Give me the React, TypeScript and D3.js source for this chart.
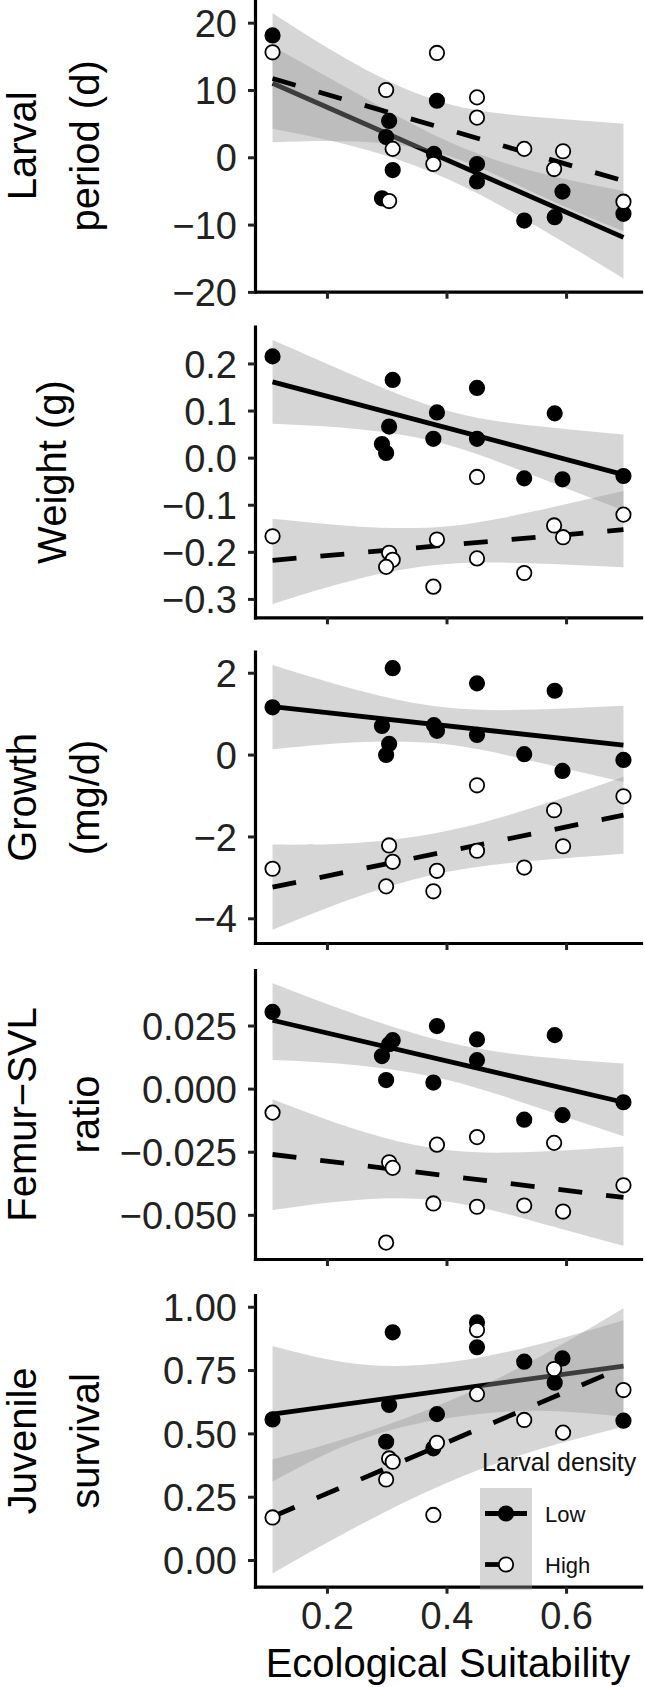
import * as d3 from 'd3';
import { useEffect, useRef } from 'react';

// x positions where the confidence bands were read, and the two ends of each fitted line
const bandX = [0.109, 0.25, 0.4, 0.55, 0.696];
const fitX = [0.109, 0.696];
const xTicks = [0.2, 0.4, 0.6];

// Larval period (d)
const larvalLow = [[0.109, 18.1], [0.304, 5.4], [0.299, 3.0], [0.31, -1.9], [0.292, -6.1], [0.384, 8.4], [0.379, 0.5], [0.451, -1.0], [0.451, -3.6], [0.53, -9.4], [0.581, -8.9], [0.594, -5.1], [0.696, -8.4]];
const larvalHigh = [[0.109, 15.6], [0.299, 10.0], [0.31, 1.25], [0.304, -6.5], [0.384, 15.5], [0.378, -1.0], [0.451, 8.9], [0.451, 5.9], [0.53, 1.25], [0.58, -1.75], [0.595, 0.9], [0.696, -6.6]];
const larvalLowFit = [11.0, -11.9];
const larvalHighFit = [11.7, -3.5];
const larvalLowBand = [[4.25, 16.5], [1.5, 9.5], [-3.15, 2.45], [-10.2, -2.2], [-18, -5]];
const larvalHighBand = [[2.25, 21.4], [2.35, 13.75], [0.3, 8.0], [-5.4, 6.0], [-11, 5.0]];
const larvalTicks = [-20, -10, 0, 10, 20];

// Weight (g)
const weightLow = [[0.109, 0.215], [0.31, 0.165], [0.451, 0.148], [0.384, 0.096], [0.581, 0.094], [0.304, 0.066], [0.292, 0.029], [0.299, 0.01], [0.378, 0.04], [0.451, 0.04], [0.53, -0.044], [0.594, -0.046], [0.696, -0.039]];
const weightHigh = [[0.451, -0.041], [0.109, -0.167], [0.304, -0.202], [0.31, -0.217], [0.299, -0.232], [0.384, -0.174], [0.378, -0.274], [0.451, -0.214], [0.53, -0.245], [0.58, -0.144], [0.595, -0.169], [0.696, -0.121]];
const weightLowFit = [0.161, -0.036];
const weightHighFit = [-0.218, -0.153];
const weightLowBand = [[0.072, 0.25], [0.061, 0.172], [0.028, 0.1], [-0.04, 0.067], [-0.112, 0.049]];
const weightHighBand = [[-0.311, -0.13], [-0.258, -0.146], [-0.226, -0.146], [-0.225, -0.113], [-0.233, -0.071]];
const weightTicks = [-0.3, -0.2, -0.1, 0, 0.1, 0.2];

// Growth (mg/d)
const growthLow = [[0.31, 2.11], [0.451, 1.74], [0.581, 1.56], [0.109, 1.155], [0.292, 0.7], [0.379, 0.72], [0.384, 0.58], [0.451, 0.48], [0.304, 0.26], [0.299, -0.01], [0.53, 0.01], [0.594, -0.4], [0.696, -0.13]];
const growthHigh = [[0.451, -0.75], [0.696, -1.02], [0.58, -1.36], [0.595, -2.24], [0.304, -2.22], [0.31, -2.62], [0.299, -3.22], [0.109, -2.79], [0.384, -2.84], [0.378, -3.34], [0.451, -2.35], [0.53, -2.76]];
const growthLowFit = [1.17, 0.23];
const growthHighFit = [-3.24, -1.48];
const growthLowBand = [[0.13, 2.19], [0.3, 1.58], [0.25, 1.15], [-0.18, 1.1], [-0.67, 1.19]];
const growthHighBand = [[-4.28, -2.2], [-3.48, -2.16], [-2.87, -1.87], [-2.59, -1.27], [-2.42, -0.54]];
const growthTicks = [-4, -2, 0, 2];

// Femur-SVL ratio
const femurLow = [[0.109, 0.0304], [0.384, 0.0248], [0.451, 0.0195], [0.581, 0.0212], [0.31, 0.0192], [0.304, 0.0176], [0.292, 0.0129], [0.451, 0.0113], [0.299, 0.0034], [0.378, 0.0024], [0.53, -0.0123], [0.594, -0.0105], [0.696, -0.0054]];
const femurHigh = [[0.109, -0.0095], [0.384, -0.0222], [0.451, -0.0192], [0.58, -0.0215], [0.304, -0.0292], [0.31, -0.0314], [0.378, -0.0455], [0.451, -0.0468], [0.53, -0.0463], [0.595, -0.0487], [0.696, -0.0383], [0.299, -0.061]];
const femurLowFit = [0.0271, -0.0054];
const femurHighFit = [-0.0261, -0.0431];
const femurLowBand = [[0.0113, 0.0418], [0.0093, 0.0293], [0.0035, 0.0185], [-0.0073, 0.0127], [-0.0189, 0.01]];
const femurHighBand = [[-0.0481, -0.0042], [-0.0441, -0.0163], [-0.0447, -0.0243], [-0.0528, -0.025], [-0.0623, -0.0229]];
const femurTicks = [-0.05, -0.025, 0, 0.025];

// Juvenile survival
const survLow = [[0.31, 0.899], [0.451, 0.938], [0.451, 0.84], [0.53, 0.783], [0.594, 0.796], [0.581, 0.7], [0.304, 0.612], [0.384, 0.576], [0.109, 0.555], [0.696, 0.55], [0.299, 0.467], [0.378, 0.441]];
const survHigh = [[0.451, 0.908], [0.58, 0.754], [0.451, 0.655], [0.696, 0.671], [0.53, 0.553], [0.595, 0.503], [0.384, 0.463], [0.304, 0.401], [0.31, 0.388], [0.299, 0.318], [0.109, 0.168], [0.378, 0.178]];
const survLowFit = [0.576, 0.766];
const survHighFit = [0.171, 0.761];
const survLowBand = [[0.31, 0.845], [0.47, 0.774], [0.56, 0.78], [0.589, 0.849], [0.566, 0.947]];
const survHighBand = [[-0.053, 0.397], [0.132, 0.494], [0.304, 0.624], [0.433, 0.795], [0.526, 0.994]];
const survTicks = [0, 0.25, 0.5, 0.75, 1];

const legendLabels = ['Low', 'High'];

const FONT = "'Liberation Sans', Arial, Helvetica, sans-serif";
const W = 645;
const H = 1687;
const left = 255;
const right = 641;

const panels = [
  { title: ['Larval', 'period (d)'], low: larvalLow, high: larvalHigh, lowFit: larvalLowFit, highFit: larvalHighFit, lowBand: larvalLowBand, highBand: larvalHighBand, ticks: larvalTicks, fmt: 'd', top: 0, bottom: 291.7 },
  { title: ['Weight (g)'], low: weightLow, high: weightHigh, lowFit: weightLowFit, highFit: weightHighFit, lowBand: weightLowBand, highBand: weightHighBand, ticks: weightTicks, fmt: '.1f', top: 326.7, bottom: 617.3 },
  { title: ['Growth', '(mg/d)'], low: growthLow, high: growthHigh, lowFit: growthLowFit, highFit: growthHighFit, lowBand: growthLowBand, highBand: growthHighBand, ticks: growthTicks, fmt: 'd', top: 651.7, bottom: 943 },
  { title: ['Femur\u2212SVL', 'ratio'], low: femurLow, high: femurHigh, lowFit: femurLowFit, highFit: femurHighFit, lowBand: femurLowBand, highBand: femurHighBand, ticks: femurTicks, fmt: '.3f', top: 970, bottom: 1259 },
  { title: ['Juvenile', 'survival'], low: survLow, high: survHigh, lowFit: survLowFit, highFit: survHighFit, lowBand: survLowBand, highBand: survHighBand, ticks: survTicks, fmt: '.2f', top: 1295, bottom: 1586.7 },
];

// ggplot-like 5% expansion of a range
function expand(ext: [number, number]): [number, number] {
  const pad = (ext[1] - ext[0]) * 0.05;
  return [ext[0] - pad, ext[1] + pad];
}

const App = () => {
  const ref = useRef<SVGSVGElement | null>(null);

  useEffect(() => {
    const svg = d3.select(ref.current!);
    svg.selectAll('*').remove();

    const allX = panels.flatMap(p => [...p.low, ...p.high].map(d => d[0]));
    const x = d3.scaleLinear()
      .domain(expand(d3.extent(allX) as [number, number]))
      .range([left, right]);

    panels.forEach((p, pi) => {
      const vals = [
        ...p.low.map(d => d[1]), ...p.high.map(d => d[1]),
        ...p.lowBand.flat(), ...p.highBand.flat(),
      ];
      const y = d3.scaleLinear()
        .domain(expand(d3.extent(vals) as [number, number]))
        .range([p.bottom, p.top]);

      const g = svg.append('g');

      const area = d3.area<number[]>()
        .x((d, i) => x(bandX[i]))
        .y0(d => y(d[0]))
        .y1(d => y(d[1]))
        .curve(d3.curveNatural);

      const line = d3.line<number>()
        .x((d, i) => x(fitX[i]))
        .y(d => y(d));

      // low group: band then line, high group drawn on top
      const groups = [
        { band: p.lowBand, fit: p.lowFit, dash: null },
        { band: p.highBand, fit: p.highFit, dash: '24 24' },
      ];
      groups.forEach(gr => {
        g.append('path')
          .attr('d', area(gr.band))
          .attr('fill', '#999999')
          .attr('fill-opacity', 0.4);
        g.append('path')
          .attr('d', line(gr.fit))
          .attr('fill', 'none')
          .attr('stroke', '#000')
          .attr('stroke-width', 4.8)
          .attr('stroke-dasharray', gr.dash);
      });

      // axes
      const isLast = pi === panels.length - 1;
      const xAxis = g.append('g')
        .attr('transform', `translate(0,${p.bottom})`)
        .call(d3.axisBottom(x)
          .tickValues(xTicks)
          .tickSize(7)
          .tickSizeOuter(0)
          .tickPadding(8)
          .tickFormat(isLast ? (d3.format('.1f') as any) : () => ''));

      const yAxis = g.append('g')
        .attr('transform', `translate(${left},0)`)
        .call(d3.axisLeft(y)
          .tickValues(p.ticks)
          .tickSize(7)
          .tickSizeOuter(0)
          .tickPadding(11)
          .tickFormat(d3.format(p.fmt) as any));

      [xAxis, yAxis].forEach(a => {
        a.attr('font-family', FONT).attr('font-size', 38);
        a.select('.domain').attr('stroke', '#000').attr('stroke-width', 3.2).attr('stroke-linecap', 'square');
        a.selectAll('.tick line').attr('stroke', '#222').attr('stroke-width', 3);
        a.selectAll('.tick text').attr('fill', '#222');
      });
      yAxis.selectAll('.tick text').attr('dy', '0.36em');

      // points
      const pts = [
        { data: p.low, fill: '#000' },
        { data: p.high, fill: '#fff' },
      ];
      pts.forEach(s => {
        g.selectAll(null)
          .data(s.data)
          .enter()
          .append('circle')
          .attr('cx', d => x(d[0]))
          .attr('cy', d => y(d[1]))
          .attr('r', 7.2)
          .attr('fill', s.fill)
          .attr('stroke', '#000')
          .attr('stroke-width', 1.8);
      });

      // y title
      const cy = (p.top + p.bottom) / 2;
      const bases = p.title.length === 2 ? [36, 99] : [66];
      p.title.forEach((t, i) => {
        g.append('text')
          .attr('transform', `translate(${bases[i]},${cy}) rotate(-90)`)
          .attr('text-anchor', 'middle')
          .attr('font-family', FONT)
          .attr('font-size', 40)
          .attr('fill', '#000')
          .text(t);
      });
    });

    // x title
    svg.append('text')
      .attr('x', (left + right) / 2)
      .attr('y', 1677)
      .attr('text-anchor', 'middle')
      .attr('font-family', FONT)
      .attr('font-size', 40)
      .attr('fill', '#000')
      .text('Ecological Suitability');

    // legend
    const lg = svg.append('g');
    lg.append('text')
      .attr('x', 482)
      .attr('y', 1471)
      .attr('font-family', FONT)
      .attr('font-size', 25)
      .attr('fill', '#111')
      .text('Larval density');

    legendLabels.forEach((lab, i) => {
      const ky = 1488 + i * 51;
      const cyk = ky + 25.5;
      lg.append('rect')
        .attr('x', 480)
        .attr('y', ky)
        .attr('width', 52)
        .attr('height', 51)
        .attr('fill', '#999999')
        .attr('fill-opacity', 0.4);
      lg.append('line')
        .attr('x1', 485)
        .attr('x2', 527)
        .attr('y1', cyk)
        .attr('y2', cyk)
        .attr('stroke', '#000')
        .attr('stroke-width', 4.8)
        .attr('stroke-dasharray', i === 1 ? '24 24' : null);
      lg.append('circle')
        .attr('cx', 506)
        .attr('cy', cyk)
        .attr('r', 7.2)
        .attr('fill', i === 0 ? '#000' : '#fff')
        .attr('stroke', '#000')
        .attr('stroke-width', 1.8);
      lg.append('text')
        .attr('x', 545)
        .attr('y', cyk + 8)
        .attr('font-family', FONT)
        .attr('font-size', 22)
        .attr('fill', '#111')
        .text(lab);
    });
  }, []);

  return (
    <div style={{ position: 'absolute', left: 0, top: 0 }}>
      <svg ref={ref} width={W} height={H} style={{ display: 'block', background: '#fff' }} />
    </div>
  );
};

export default App;
